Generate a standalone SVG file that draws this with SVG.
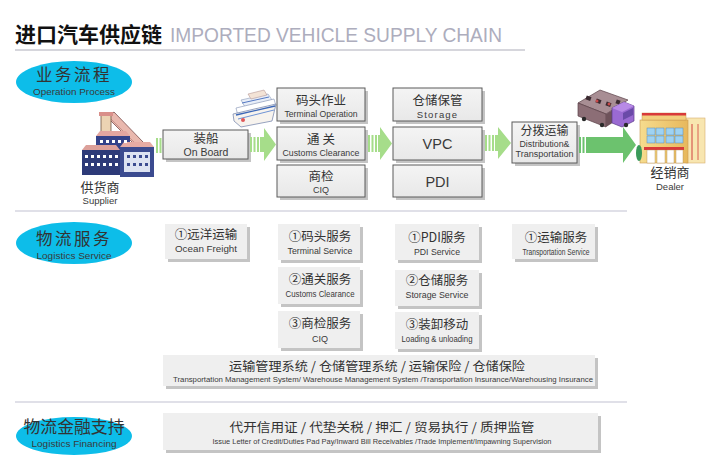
<svg xmlns="http://www.w3.org/2000/svg" width="720" height="465" viewBox="0 0 720 465">
<defs>
<style>
.zh{font-family:"Noto Sans CJK SC","Noto Sans",sans-serif;fill:#333}
.en{font-family:"Liberation Sans",Arial,sans-serif;fill:#3a3a3a}
.box{fill:url(#gb);stroke:#5a5a5a;stroke-width:1}
.sh{fill:#c4c4c4}
.sbox{fill:#efefef}
.ell{fill:#0dbde9}
.sep{stroke:#d6d6e0;stroke-width:1.3}
.lg{fill:#a6dd8a}
.dg{fill:#6cc26e}
.m{text-anchor:middle}
</style>
<linearGradient id="gb" x1="0" y1="0" x2="0" y2="1">
<stop offset="0" stop-color="#f4f4f4"/>
<stop offset="1" stop-color="#e8e8e8"/>
</linearGradient>
<linearGradient id="gy" x1="0" y1="0" x2="1" y2="0">
<stop offset="0" stop-color="#f6dc8e"/>
<stop offset="1" stop-color="#e7b85c"/>
</linearGradient>
</defs>
<rect x="0" y="0" width="720" height="465" fill="#ffffff"/>

<g id="title">
<text x="15" y="42" class="zh" font-size="21" font-weight="bold" style="fill:#111">进口汽车供应链</text>
<text x="170" y="42" class="en" font-size="19.5" textLength="332" lengthAdjust="spacingAndGlyphs" style="fill:#adadbd">IMPORTED VEHICLE SUPPLY CHAIN</text>
<line x1="15" y1="50" x2="525" y2="50" stroke="#c8c8d0" stroke-width="1.3"/>
</g>

<g id="separators">
<line class="sep" x1="15" y1="211" x2="627" y2="211"/>
<line class="sep" x1="15" y1="402" x2="627" y2="402"/>
</g>

<g id="label-operation">
<ellipse class="ell" cx="74" cy="82" rx="58" ry="21"/>
<text x="74" y="81" class="zh m" font-size="16.5" letter-spacing="2.5">业务流程</text>
<text x="74" y="94.5" class="en m" font-size="9.5" textLength="82" lengthAdjust="spacingAndGlyphs">Operation Process</text>
</g>

<g id="label-logistics">
<ellipse class="ell" cx="74" cy="243" rx="58" ry="21"/>
<text x="74" y="245" class="zh m" font-size="16.5" letter-spacing="2.5">物流服务</text>
<text x="74" y="258.5" class="en m" font-size="9.5" textLength="75" lengthAdjust="spacingAndGlyphs">Logistics Service</text>
</g>

<g id="label-financing">
<ellipse class="ell" cx="74" cy="436" rx="58" ry="19"/>
<text x="74" y="433" class="zh m" font-size="16.5" textLength="101" lengthAdjust="spacingAndGlyphs">物流金融支持</text>
<text x="74" y="447" class="en m" font-size="9.5" textLength="85" lengthAdjust="spacingAndGlyphs">Logistics Financing</text>
</g>

<g id="supplier">
<polygon points="107,117 114,112 143,142 136,146" fill="#e9b8ae" stroke="#7a4e4e" stroke-width="0.8"/>
<line x1="110" y1="118" x2="138" y2="146" stroke="#b07a74" stroke-width="0.6"/>
<rect x="101" y="114" width="10" height="36" fill="#ecd3b3" stroke="#6e5444" stroke-width="0.8"/>
<rect x="99" y="112" width="14" height="4" fill="#d98f8a"/>
<rect x="96" y="136" width="34" height="18" fill="#34428a"/>
<polygon points="96,136 130,136 126,131 100,131" fill="#e3a6a0"/>
<rect x="82" y="150" width="38" height="25" fill="#2d3a78"/>
<polygon points="82,150 120,150 116,145 86,145" fill="#dca09a"/>
<rect x="120" y="147" width="34" height="30" fill="#3b4b90"/>
<polygon points="120,147 154,147 150,142 124,142" fill="#e6aca4"/>
<rect x="124" y="152" width="26" height="20" fill="#dde3f2"/>
<g fill="#ffffff">
<rect x="85" y="155" width="3" height="3"/><rect x="91" y="155" width="3" height="3"/><rect x="97" y="155" width="3" height="3"/><rect x="103" y="155" width="3" height="3"/><rect x="109" y="155" width="3" height="3"/><rect x="115" y="155" width="3" height="3"/>
<rect x="85" y="163" width="3" height="3"/><rect x="91" y="163" width="3" height="3"/><rect x="97" y="163" width="3" height="3"/><rect x="103" y="163" width="3" height="3"/><rect x="109" y="163" width="3" height="3"/><rect x="115" y="163" width="3" height="3"/>
<rect x="100" y="140" width="3" height="3"/><rect x="106" y="140" width="3" height="3"/><rect x="112" y="140" width="3" height="3"/><rect x="118" y="140" width="3" height="3"/><rect x="124" y="140" width="3" height="3"/>
</g>
<g fill="#3b4b90">
<rect x="127" y="155" width="3" height="3"/><rect x="133" y="155" width="3" height="3"/><rect x="139" y="155" width="3" height="3"/><rect x="145" y="155" width="3" height="3"/>
<rect x="127" y="163" width="3" height="3"/><rect x="133" y="163" width="3" height="3"/><rect x="139" y="163" width="3" height="3"/><rect x="145" y="163" width="3" height="3"/>
</g>
<text x="100" y="191.5" class="zh m" font-size="13">供货商</text>
<text x="100" y="204" class="en m" font-size="9.5">Supplier</text>
</g>

<g id="ship">
<polygon points="241,100 268,94 272,100 245,107" fill="#e8eef8" stroke="#8a9ab8" stroke-width="0.6"/>
<polygon points="248,94 264,90 267,95 251,99" fill="#f3e3d6" stroke="#a88" stroke-width="0.5"/>
<polygon points="236,108 274,99 276,106 238,116" fill="#ffffff" stroke="#7d8db0" stroke-width="0.6"/>
<polygon points="233,114 276,104 272,121 241,127 234,121" fill="#f7f3ee" stroke="#6b7ca6" stroke-width="0.7"/>
<polyline points="236,115 275,106" fill="none" stroke="#3b67b8" stroke-width="1.4"/>
<polyline points="238,119 274,110" fill="none" stroke="#6f93d4" stroke-width="1"/>
<polyline points="242,103 269,97" fill="none" stroke="#5478c2" stroke-width="1"/>
<circle cx="243" cy="120" r="2" fill="#e05858"/>
</g>

<g id="onboard">
<rect class="sh" x="166" y="133" width="85" height="29"/>
<rect class="box" x="163" y="130" width="85" height="29"/>
<text x="206" y="142.5" class="zh m" font-size="12.5">装船</text>
<text x="206" y="156" class="en m" font-size="10.5">On Board</text>
</g>

<g id="terminal-op">
<rect class="sh" x="280" y="91" width="88" height="33"/>
<rect class="box" x="277" y="88" width="88" height="33"/>
<text x="321" y="105" class="zh m" font-size="12.5">码头作业</text>
<text x="321" y="117" class="en m" font-size="9" textLength="73" lengthAdjust="spacingAndGlyphs">Terminal Operation</text>
</g>
<g id="customs">
<rect class="sh" x="280" y="130" width="88" height="33"/>
<rect class="box" x="277" y="127" width="88" height="33"/>
<text x="321" y="143.5" class="zh m" font-size="12.5">通 关</text>
<text x="321" y="155.5" class="en m" font-size="9" textLength="77" lengthAdjust="spacingAndGlyphs">Customs Clearance</text>
</g>
<g id="ciq">
<rect class="sh" x="280" y="168" width="88" height="32"/>
<rect class="box" x="277" y="165" width="88" height="32"/>
<text x="321" y="181" class="zh m" font-size="12.5">商检</text>
<text x="321" y="193" class="en m" font-size="9">CIQ</text>
</g>

<g id="storage">
<rect class="sh" x="396" y="91" width="89" height="33"/>
<rect class="box" x="393" y="88" width="89" height="33"/>
<text x="437.5" y="105" class="zh m" font-size="12.5">仓储保管</text>
<text x="437.5" y="117.5" class="en m" font-size="9.5" letter-spacing="1.2">Storage</text>
</g>
<g id="vpc">
<rect class="sh" x="396" y="130" width="89" height="33"/>
<rect class="box" x="393" y="127" width="89" height="33"/>
<text x="437.5" y="148.5" class="en m" font-size="14.5">VPC</text>
</g>
<g id="pdi">
<rect class="sh" x="396" y="168" width="89" height="32"/>
<rect class="box" x="393" y="165" width="89" height="32"/>
<text x="437.5" y="186.5" class="en m" font-size="14.5">PDI</text>
</g>

<g id="distribution">
<rect class="sh" x="515" y="125" width="65" height="41"/>
<rect class="box" x="512" y="122" width="65" height="41"/>
<text x="544.5" y="135" class="zh m" font-size="12">分拨运输</text>
<text x="544.5" y="147" class="en m" font-size="8.5" textLength="50" lengthAdjust="spacingAndGlyphs">Distribution&amp;</text>
<text x="544.5" y="157" class="en m" font-size="8.5" textLength="58" lengthAdjust="spacingAndGlyphs">Transportation</text>
</g>

<g id="truck">
<polygon points="578,103 600,90 628,100 606,114" fill="#a88e94" stroke="#5a4048" stroke-width="0.7"/>
<polygon points="578,103 606,114 606,127 578,116" fill="#8c6e76" stroke="#5a4048" stroke-width="0.7"/>
<polygon points="606,114 614,109 614,122 606,127" fill="#6e525a"/>
<g fill="#3a2a30">
<rect x="586" y="96" width="5" height="4" transform="rotate(20 588 98)"/>
<rect x="596" y="99" width="5" height="4" transform="rotate(20 598 101)"/>
<rect x="606" y="102" width="5" height="4" transform="rotate(20 608 104)"/>
<rect x="616" y="100" width="4" height="4" transform="rotate(20 618 102)"/>
</g>
<g fill="#c84848"><circle cx="597" cy="101" r="1.5"/><circle cx="609" cy="104" r="1.5"/></g>
<polygon points="612,108 624,102 634,106 634,121 622,127 612,123" fill="#9a6ad2" stroke="#5a3a8a" stroke-width="0.7"/>
<polygon points="612,108 624,102 634,106 622,112" fill="#b88ae6"/>
<polygon points="623,113 633,108 633,115 623,120" fill="#6a4aa8"/>
<circle cx="584" cy="119" r="2.2" fill="#2a2a2a"/><circle cx="602" cy="125" r="2.2" fill="#2a2a2a"/><circle cx="626" cy="125" r="2.2" fill="#2a2a2a"/>
</g>

<g id="dealer">
<rect x="686" y="118" width="19" height="45" fill="#f8e6b0" stroke="#d8b070" stroke-width="0.6"/>
<line x1="692" y1="124" x2="692" y2="160" stroke="#d04040" stroke-width="1"/>
<line x1="698" y1="124" x2="698" y2="160" stroke="#d04040" stroke-width="0.8"/>
<rect x="640" y="120" width="48" height="43" fill="url(#gy)" stroke="#c89850" stroke-width="0.6"/>
<rect x="642" y="113" width="44" height="7" fill="#f2cf7e" stroke="#c89850" stroke-width="0.5"/>
<rect x="642" y="113" width="44" height="2.5" fill="#d83a3a"/>
<g fill="#9ed2f2" stroke="#5a8ab8" stroke-width="0.5">
<rect x="647" y="128" width="8" height="7"/><rect x="656" y="128" width="8" height="7"/><rect x="666" y="128" width="8" height="7"/><rect x="675" y="128" width="8" height="7"/>
<rect x="647" y="136" width="8" height="7"/><rect x="656" y="136" width="8" height="7"/><rect x="666" y="136" width="8" height="7"/><rect x="675" y="136" width="8" height="7"/>
</g>
<rect x="644" y="147" width="40" height="3" fill="#d83a3a"/>
<g fill="#ffffff" stroke="#b08a50" stroke-width="0.4">
<rect x="647" y="150" width="8" height="13"/><rect x="657" y="150" width="8" height="13"/><rect x="667" y="150" width="7" height="13"/><rect x="676" y="150" width="7" height="13"/>
</g>
<ellipse cx="639" cy="153" rx="3" ry="8" fill="#3a9a5a"/>
<text x="670" y="177" class="zh m" font-size="13">经销商</text>
<text x="670" y="190" class="en m" font-size="9.5">Dealer</text>
</g>

<g id="connectors">
<rect class="lg" x="156" y="138" width="2" height="15"/>
<rect class="lg" x="159.5" y="138" width="2" height="15"/>
<rect class="lg" x="250" y="137" width="2" height="15"/>
<rect class="lg" x="253.5" y="137" width="2" height="15"/>
<rect class="lg" x="257" y="137" width="2" height="15"/>
<polygon class="lg" points="260,137 264,137 264,128 276,144.5 264,161 264,152 260,152"/>
<rect class="lg" x="368" y="135" width="2" height="17"/>
<rect class="lg" x="371.5" y="135" width="2" height="17"/>
<rect class="lg" x="375" y="135" width="2" height="17"/>
<polygon class="lg" points="378,135 380,135 380,127 392,143.5 380,160 380,152 378,152"/>
<rect class="lg" x="485" y="135" width="2" height="16"/>
<rect class="lg" x="488.5" y="135" width="2" height="16"/>
<rect class="lg" x="492" y="135" width="2" height="16"/>
<polygon class="lg" points="495,135 498,135 498,127 511,143 498,159 498,151 495,151"/>
<rect class="dg" x="579" y="137" width="2" height="16"/>
<rect class="dg" x="582.5" y="137" width="2" height="16"/>
<polygon class="dg" points="586,137 623,137 623,127 636,145 623,163 623,153 586,153"/>
</g>

<g id="svc-ocean">
<rect class="sh" x="168" y="227" width="82" height="35"/>
<rect class="sbox" x="165" y="224" width="82" height="35"/>
<text x="206" y="238.5" class="zh m" font-size="12.5">①远洋运输</text>
<text x="206" y="252" class="en m" font-size="9.5" textLength="62" lengthAdjust="spacingAndGlyphs">Ocean Freight</text>
</g>
<g id="svc-terminal">
<rect class="sh" x="281" y="227" width="82" height="36"/>
<rect class="sbox" x="278" y="224" width="82" height="36"/>
<text x="320" y="241" class="zh m" font-size="12.5">①码头服务</text>
<text x="320" y="253.5" class="en m" font-size="9" textLength="65" lengthAdjust="spacingAndGlyphs">Terminal Service</text>
</g>
<g id="svc-customs">
<rect class="sh" x="281" y="270" width="82" height="37"/>
<rect class="sbox" x="278" y="267" width="82" height="37"/>
<text x="320" y="284" class="zh m" font-size="12.5">②通关服务</text>
<text x="320" y="296.5" class="en m" font-size="9" textLength="69" lengthAdjust="spacingAndGlyphs">Customs Clearance</text>
</g>
<g id="svc-ciq">
<rect class="sh" x="281" y="314" width="82" height="37"/>
<rect class="sbox" x="278" y="311" width="82" height="37"/>
<text x="320" y="328" class="zh m" font-size="12.5">③商检服务</text>
<text x="320" y="341.5" class="en m" font-size="9">CIQ</text>
</g>
<g id="svc-pdi">
<rect class="sh" x="398" y="227" width="84" height="36"/>
<rect class="sbox" x="395" y="224" width="84" height="36"/>
<text x="437" y="242" class="zh m" font-size="12.5">①PDI服务</text>
<text x="437" y="255" class="en m" font-size="9" textLength="46" lengthAdjust="spacingAndGlyphs">PDI Service</text>
</g>
<g id="svc-storage">
<rect class="sh" x="398" y="273" width="84" height="36"/>
<rect class="sbox" x="395" y="270" width="84" height="36"/>
<text x="437" y="285" class="zh m" font-size="12.5">②仓储服务</text>
<text x="437" y="297.5" class="en m" font-size="9" textLength="63" lengthAdjust="spacingAndGlyphs">Storage Service</text>
</g>
<g id="svc-loading">
<rect class="sh" x="398" y="315" width="84" height="37"/>
<rect class="sbox" x="395" y="312" width="84" height="37"/>
<text x="437" y="329" class="zh m" font-size="12.5">③装卸移动</text>
<text x="437" y="342" class="en m" font-size="9" textLength="71" lengthAdjust="spacingAndGlyphs">Loading &amp; unloading</text>
</g>
<g id="svc-transport">
<rect class="sh" x="515" y="227" width="83" height="35"/>
<rect class="sbox" x="512" y="224" width="83" height="35"/>
<text x="556" y="242" class="zh m" font-size="12.5">①运输服务</text>
<text x="556" y="255" class="en m" font-size="9" textLength="67" lengthAdjust="spacingAndGlyphs">Transportation Service</text>
</g>

<g id="management">
<rect class="sh" x="166" y="358" width="432" height="31"/>
<rect class="sbox" x="163" y="355" width="432" height="31"/>
<text x="377" y="370.5" class="zh m" font-size="12.5" textLength="296" lengthAdjust="spacingAndGlyphs">运输管理系统 / 仓储管理系统 / 运输保险 / 仓储保险</text>
<text x="383" y="382" class="en m" font-size="8" textLength="420" lengthAdjust="spacingAndGlyphs">Transportation Management System/ Warehouse Management System /Transportation Insurance/Warehousing Insurance</text>
</g>

<g id="financing">
<rect class="sh" x="166" y="416" width="435" height="37"/>
<rect class="sbox" x="163" y="413" width="435" height="37"/>
<text x="382" y="431.5" class="zh m" font-size="12.5" textLength="305" lengthAdjust="spacingAndGlyphs">代开信用证 / 代垫关税 / 押汇 / 贸易执行 / 质押监管</text>
<text x="382" y="443.5" class="en m" font-size="8" textLength="339" lengthAdjust="spacingAndGlyphs">Issue Letter of Credit/Duties Pad Pay/Inward Bill Receivables /Trade Implement/Impawning Supervision</text>
</g>
</svg>
